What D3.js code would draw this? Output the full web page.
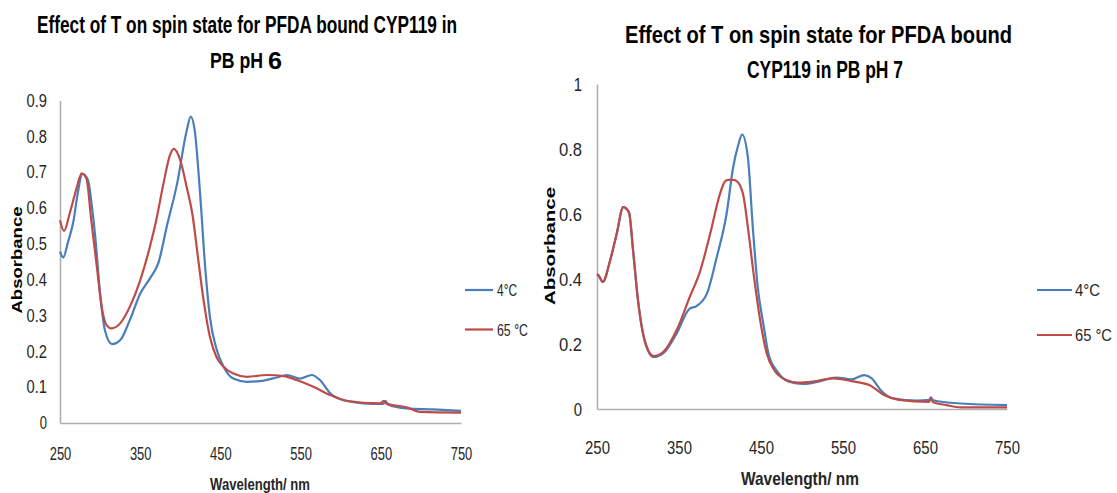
<!DOCTYPE html>
<html><head><meta charset="utf-8">
<script src="https://cdn.jsdelivr.net/npm/d3@7"></script>
<style>body{margin:0;background:#fff} svg{display:block}</style>
</head><body>
<svg id="c" width="1117" height="493"></svg>
<script>
// ---------- data ----------
const seriesNames = ["4°C", "65 °C"];
const seriesColors = ["#4a7ebb", "#be4b48"];
const xTicks = [250, 350, 450, 550, 650, 750];
const ph6YTicks = [0, 0.1, 0.2, 0.3, 0.4, 0.5, 0.6, 0.7, 0.8, 0.9];
const ph7YTicks = [0, 0.2, 0.4, 0.6, 0.8, 1];

// pH 6, 4 °C
const ph6ColdWl  = [250,254,260,267,272,278,285,290,294,300,306,315,325,337,350,362,373,383,396,408,413,418,425,431,437,445,454,466,483,499,520,533,549,564,574,587,603,628,653,656,659,682,715,750];
const ph6ColdAbs = [0.478,0.462,0.505,0.566,0.64,0.695,0.677,0.60,0.519,0.361,0.259,0.220,0.231,0.287,0.361,0.403,0.449,0.547,0.668,0.816,0.855,0.816,0.630,0.435,0.295,0.208,0.157,0.124,0.115,0.117,0.127,0.134,0.124,0.134,0.120,0.083,0.064,0.055,0.053,0.061,0.052,0.041,0.038,0.034];
// pH 6, 65 °C
const ph6HotWl  = [250,255,262,271,277,283,289,296,302,308,314,325,337,350,362,370,379,387,392,400,408,415,422,429,437,445,454,466,483,508,529,545,566,587,607,649,654,657,682,699,750];
const ph6HotAbs = [0.566,0.536,0.584,0.658,0.697,0.682,0.566,0.435,0.324,0.273,0.264,0.278,0.324,0.398,0.491,0.566,0.668,0.747,0.765,0.733,0.658,0.584,0.463,0.343,0.240,0.185,0.157,0.138,0.129,0.134,0.131,0.120,0.101,0.078,0.062,0.055,0.062,0.054,0.044,0.031,0.029];
// pH 7, 4 °C
const ph7ColdWl  = [250,252,257,266,274,282,289,294,300,308,319,331,347,363,371,384,396,408,416,422,427,434,440,446,453,459,470,484,502,520,542,560,576,585,596,611,640,655,657,660,694,750];
const ph7ColdAbs = [0.415,0.411,0.391,0.457,0.539,0.621,0.605,0.488,0.334,0.212,0.160,0.172,0.232,0.309,0.316,0.355,0.467,0.600,0.743,0.81,0.844,0.774,0.559,0.375,0.26,0.171,0.115,0.084,0.077,0.084,0.097,0.091,0.104,0.094,0.058,0.033,0.026,0.028,0.036,0.027,0.017,0.012];
// pH 7, 65 °C
const ph7HotWl  = [250,252,257,266,274,282,289,294,300,308,319,331,347,363,376,388,400,406,410,416,420,428,434,441,449,457,466,481,495,513,538,560,582,600,618,655,657,660,676,694,750];
const ph7HotAbs = [0.415,0.411,0.391,0.457,0.539,0.621,0.605,0.488,0.334,0.212,0.163,0.176,0.242,0.344,0.426,0.539,0.662,0.700,0.705,0.705,0.702,0.662,0.559,0.416,0.273,0.171,0.120,0.089,0.081,0.084,0.094,0.086,0.074,0.043,0.028,0.022,0.032,0.021,0.012,0.005,0.005];

const ph6Title = ["Effect of T on spin state for PFDA bound CYP119 in", "PB pH", "6"];
const ph7Title = ["Effect of T on spin state for PFDA bound", "CYP119 in PB pH 7"];
const xLabel = "Wavelength/ nm";
const yLabel = "Absorbance";

// ---------- drawing ----------
const svg = d3.select("#c");
const FONT = "'Liberation Sans Narrow','Arial Narrow','Liberation Sans',Arial,sans-serif";
const txt = "#262626";

function squish(sel, digitW, dotW) {
  sel.each(function () {
    const s = this.textContent;
    let len = 0;
    for (const ch of s) len += ch === "." ? dotW : digitW;
    d3.select(this).attr("textLength", len).attr("lengthAdjust", "spacingAndGlyphs");
  });
}

function panel(cfg) {
  const x = d3.scaleLinear().domain([250, 750]).range(cfg.xr);
  const y = d3.scaleLinear().domain(cfg.yd).range(cfg.yr);
  const g = svg.append("g");

  const xAxis = d3.axisBottom(x).tickValues(xTicks).tickSize(0).tickPadding(cfg.xPad);
  const gx = g.append("g").attr("transform", `translate(0,${y(0)})`).call(xAxis);
  gx.select(".domain").attr("stroke", "#b0b0b0").attr("stroke-width", 1.6);
  gx.selectAll("text").attr("font-family", FONT).attr("font-size", cfg.tickFs).attr("fill", txt);
  squish(gx.selectAll("text"), cfg.digitW, cfg.dotW);

  const yAxis = d3.axisLeft(y).tickValues(cfg.yTicks).tickSize(0).tickPadding(cfg.yPad)
    .tickFormat(d => d === 0 ? "0" : (Number.isInteger(d) ? String(d) : d3.format(".1f")(d)));
  const gy = g.append("g").attr("transform", `translate(${x(250)},0)`).call(yAxis);
  gy.select(".domain").attr("stroke", "#b0b0b0").attr("stroke-width", 1.6);
  gy.selectAll("text").attr("font-family", FONT).attr("font-size", cfg.tickFs).attr("fill", txt);
  squish(gy.selectAll("text"), cfg.digitW, cfg.dotW);

  const line = d3.line().x(d => x(d[0])).y(d => y(d[1])).curve(d3.curveMonotoneX);
  cfg.series.forEach((s, i) => {
    g.append("path").datum(d3.zip(s.wl, s.abs))
      .attr("d", line).attr("fill", "none")
      .attr("stroke", seriesColors[i]).attr("stroke-width", 2.2)
      .attr("stroke-linejoin", "round");
  });

  g.append("text").text(xLabel)
    .attr("x", cfg.xLab[0]).attr("y", cfg.xLab[1]).attr("text-anchor", "middle")
    .attr("font-family", FONT).attr("font-weight", "bold").attr("font-size", cfg.xLabFs).attr("fill", txt)
    .attr("textLength", cfg.xLabLen).attr("lengthAdjust", "spacingAndGlyphs");
  g.append("text").text(yLabel)
    .attr("transform", `translate(${cfg.yLab[0]},${cfg.yLab[1]}) rotate(-90)`)
    .attr("text-anchor", "middle").attr("dy", "0.35em")
    .attr("font-family", "'Liberation Sans',Arial,sans-serif").attr("font-weight", "bold")
    .attr("font-size", cfg.yLabFs).attr("fill", "#000")
    .attr("textLength", cfg.yLabLen).attr("lengthAdjust", "spacingAndGlyphs");

  seriesNames.forEach((n, i) => {
    const ly = cfg.leg.ys[i];
    g.append("line").attr("x1", cfg.leg.x1).attr("x2", cfg.leg.x2).attr("y1", ly).attr("y2", ly)
      .attr("stroke", seriesColors[i]).attr("stroke-width", 2.2);
    g.append("text").text(n).attr("x", cfg.leg.tx).attr("y", ly).attr("dy", "0.36em")
      .attr("font-family", FONT).attr("font-size", cfg.leg.fs).attr("fill", txt)
      .attr("textLength", cfg.leg.lens[i]).attr("lengthAdjust", "spacingAndGlyphs");
  });
  return g;
}

const left = panel({
  xr: [60, 461], yd: [0, 0.9], yr: [423, 100.5], yTicks: ph6YTicks,
  xPad: 24, yPad: 13, tickFs: 18, digitW: 7.2, dotW: 6,
  series: [{wl: ph6ColdWl, abs: ph6ColdAbs}, {wl: ph6HotWl, abs: ph6HotAbs}],
  xLab: [260, 490], xLabFs: 17, xLabLen: 100,
  yLab: [17, 260], yLabFs: 14, yLabLen: 107,
  leg: {x1: 465, x2: 493, tx: 497, ys: [290, 329.5], fs: 17, lens: [20, 31]}
});
left.append("text").attr("x", 247).attr("y", 33).attr("text-anchor", "middle")
  .attr("font-family", FONT).attr("font-weight", "bold").attr("font-size", 23).attr("fill", "#000")
  .attr("textLength", 420).attr("lengthAdjust", "spacingAndGlyphs").text(ph6Title[0]);
left.append("text").attr("transform", "translate(210,68) scale(1,1.18)")
  .attr("font-family", FONT).attr("font-weight", "bold").attr("font-size", 19).attr("fill", "#000")
  .attr("textLength", 53).attr("lengthAdjust", "spacingAndGlyphs").text(ph6Title[1]);
left.append("text").attr("x", 268).attr("y", 68.5)
  .attr("font-family", "'Liberation Sans',Arial,sans-serif").attr("font-weight", "bold")
  .attr("font-size", 24).attr("fill", "#000")
  .attr("textLength", 14).attr("lengthAdjust", "spacingAndGlyphs").text(ph6Title[2]);

const right = panel({
  xr: [597, 1007], yd: [0, 1], yr: [409, 84], yTicks: ph7YTicks,
  xPad: 32, yPad: 15, tickFs: 19, digitW: 8.3, dotW: 6.5,
  series: [{wl: ph7ColdWl, abs: ph7ColdAbs}, {wl: ph7HotWl, abs: ph7HotAbs}],
  xLab: [800, 485], xLabFs: 19, xLabLen: 118,
  yLab: [550, 246], yLabFs: 15.5, yLabLen: 118,
  leg: {x1: 1037, x2: 1072, tx: 1075, ys: [290, 335], fs: 17, lens: [25, 37]}
});
right.append("text").attr("x", 818.5).attr("y", 43).attr("text-anchor", "middle")
  .attr("font-family", FONT).attr("font-weight", "bold").attr("font-size", 24).attr("fill", "#000")
  .attr("textLength", 387).attr("lengthAdjust", "spacingAndGlyphs").text(ph7Title[0]);
right.append("text").attr("x", 825).attr("y", 77.5).attr("text-anchor", "middle")
  .attr("font-family", FONT).attr("font-weight", "bold").attr("font-size", 24).attr("fill", "#000")
  .attr("textLength", 156).attr("lengthAdjust", "spacingAndGlyphs").text(ph7Title[1]);
</script>
</body></html>
